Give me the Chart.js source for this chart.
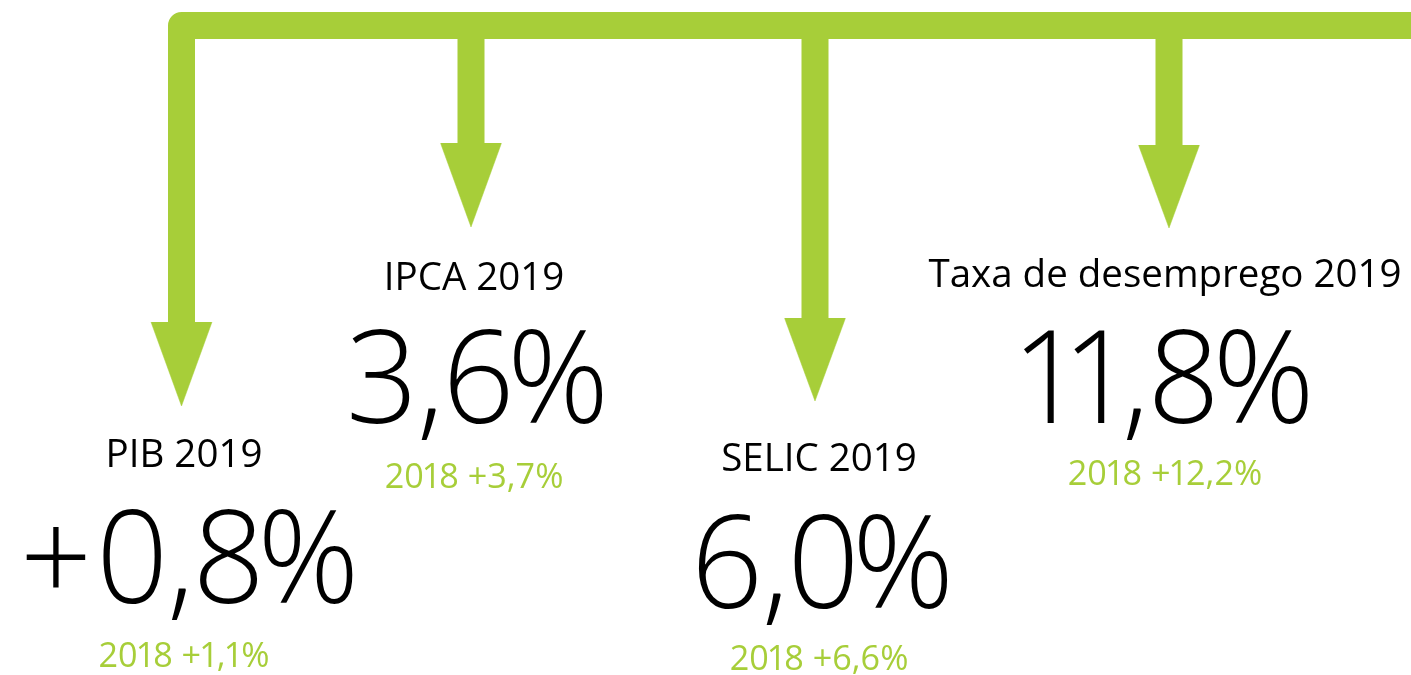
<!DOCTYPE html>
<html>
<head>
<meta charset="utf-8">
<script src="https://cdn.jsdelivr.net/npm/chart.js@4/dist/chart.umd.min.js"></script>
<style>
  html, body { margin: 0; padding: 0; background: #ffffff; }
  #wrap { width: 1411px; height: 675px; position: relative; }
</style>
</head>
<body>
<div id="wrap"><canvas id="c"></canvas></div>
<script>
// ---- data ----
const indicators = ['PIB 2019', 'IPCA 2019', 'SELIC 2019', 'Taxa de desemprego 2019'];
const values2019 = [0.8, 3.6, 6.0, 11.8];
const signed2019 = [true, false, false, false];
const prevYear = '2018';
const values2018 = [1.1, 3.7, 6.6, 12.2];

// ---- layout (pixel-like coordinate space 1411 x 675) ----
const GREEN = '#a7ce39';
const colX = [181.5, 471, 815, 1169];
const headTop = [322, 143, 318, 145];
const tipY = [406, 227, 401, 228];
const textX = [184, 474, 819, 1165];
const labelY = [467, 290, 471, 287];
const bigY = [603, 423, 608, 423];
const smallY = [667, 488, 670, 485];
const barY = 25.5, barW = 27, headHalf = 30.5;

function fmt(v, signed) {
  const s = v.toFixed(1).replace('.', ',') + '%';
  return signed ? '+' + s : s;
}

const datasets = [];
datasets.push({
  data: [{x: colX[0], y: headTop[0] + 1}, {x: colX[0], y: barY}, {x: 1430, y: barY}],
  showLine: true, borderColor: GREEN, borderWidth: barW, borderJoinStyle: 'round',
  borderCapStyle: 'butt', pointRadius: 0, fill: false, tension: 0
});
for (let i = 0; i < indicators.length; i++) {
  if (i > 0) {
    datasets.push({
      data: [{x: colX[i], y: barY}, {x: colX[i], y: headTop[i] + 1}],
      showLine: true, borderColor: GREEN, borderWidth: barW, borderCapStyle: 'butt',
      pointRadius: 0, fill: false, tension: 0
    });
  }
  datasets.push({
    data: [{x: colX[i] - headHalf, y: headTop[i]}, {x: colX[i], y: tipY[i]}, {x: colX[i] + headHalf, y: headTop[i]}],
    showLine: true, borderColor: GREEN, borderWidth: 0.5, backgroundColor: GREEN,
    pointRadius: 0, fill: {value: headTop[i]}, tension: 0
  });
}

// draw a string char by char with a horizontal squeeze and per-glyph advances
function drawTight(ctx, text, cx, y, sx, adv) {
  const chars = Array.from(text);
  const widths = chars.map(ch => ctx.measureText(ch).width * sx * (adv[ch] || 1));
  const total = widths.reduce((a, b) => a + b, 0);
  let x = cx - total / 2;
  ctx.textAlign = 'left';
  chars.forEach((ch, k) => {
    const w = ctx.measureText(ch).width * sx;
    ctx.save();
    ctx.translate(x + (widths[k] - w) / 2, y);
    ctx.scale(sx, 1);
    ctx.fillText(ch, 0, 0);
    ctx.restore();
    x += widths[k];
  });
}

const textPlugin = {
  id: 'texts',
  afterDatasetsDraw(chart) {
    const ctx = chart.ctx, xs = chart.scales.x, ys = chart.scales.y;
    ctx.save();
    ctx.textBaseline = 'alphabetic';
    for (let i = 0; i < indicators.length; i++) {
      const x = xs.getPixelForValue(textX[i]);
      ctx.fillStyle = '#000000';
      ctx.textAlign = 'center';
      ctx.font = '400 38.5px "Open Sans", "Noto Sans", sans-serif';
      ctx.fillText(indicators[i], x, ys.getPixelForValue(labelY[i]));
      ctx.font = '300 130px "Open Sans", "Noto Sans", sans-serif';
      drawTight(ctx, fmt(values2019[i], signed2019[i]), x, ys.getPixelForValue(bigY[i]), 0.97,
        {'1': 0.7, '%': 0.86, ',': 0.9, '+': 1.12});
      ctx.fillStyle = GREEN;
      ctx.font = '400 34.5px "Open Sans", "Noto Sans", sans-serif';
      drawTight(ctx, prevYear + ' ' + fmt(values2018[i], true), x, ys.getPixelForValue(smallY[i]), 0.99,
        {'1': 0.8});
    }
    ctx.restore();
  }
};

new Chart(document.getElementById('c'), {
  type: 'scatter',
  data: { datasets },
  options: {
    responsive: true, maintainAspectRatio: false, animation: false,
    layout: { padding: 0 },
    plugins: { legend: { display: false }, tooltip: { enabled: false } },
    scales: {
      x: { type: 'linear', min: 0, max: 1411, display: false },
      y: { type: 'linear', min: 0, max: 675, reverse: true, display: false }
    },
    elements: { line: { tension: 0 } }
  },
  plugins: [textPlugin]
});
</script>
</body>
</html>
